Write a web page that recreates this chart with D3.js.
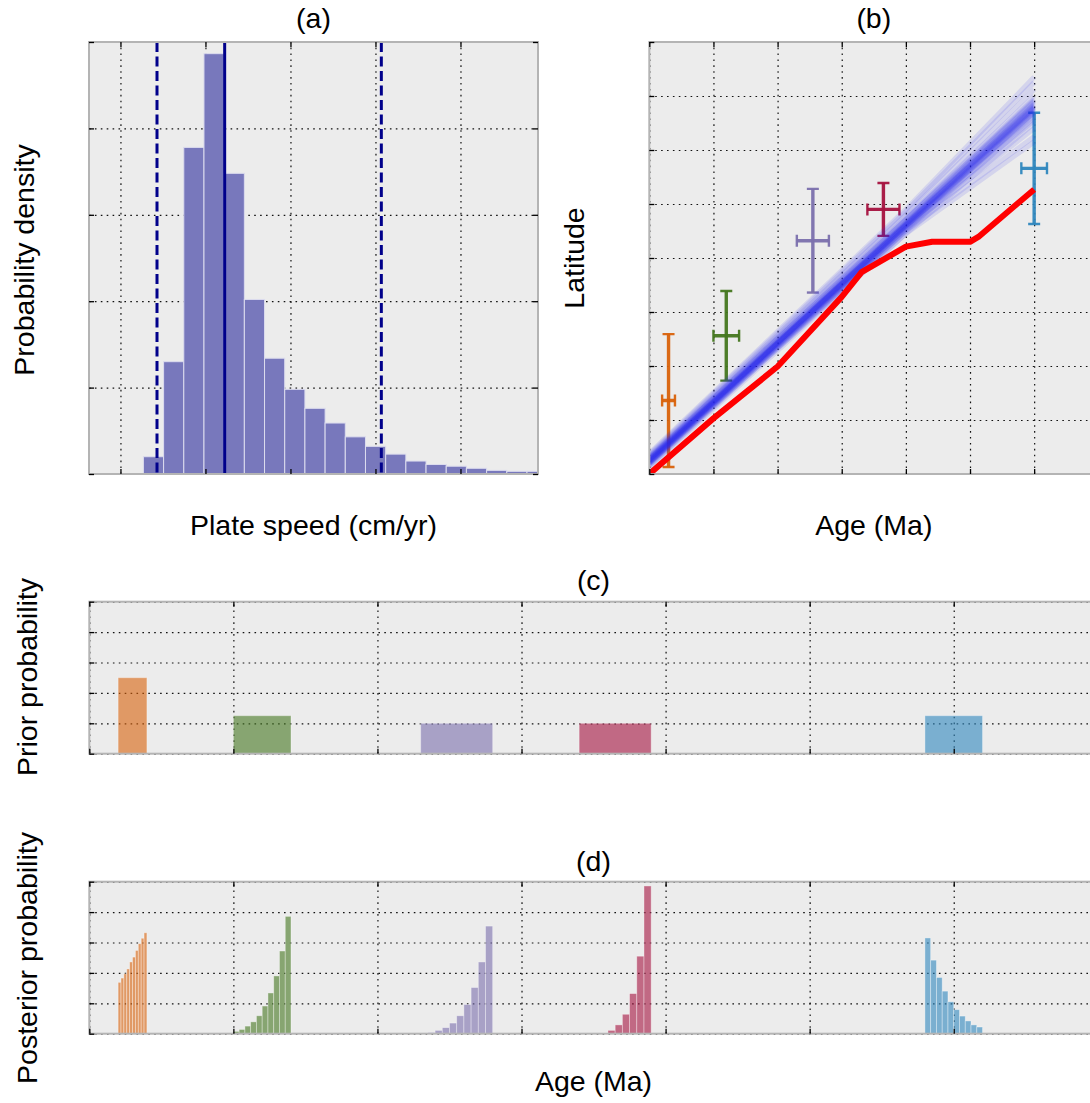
<!DOCTYPE html>
<html><head><meta charset="utf-8">
<script src="https://cdn.jsdelivr.net/npm/d3@7"></script>
<style>
body{margin:0;background:#fff}
svg{display:block}
text{font-family:"Liberation Sans",Arial,Helvetica,sans-serif;fill:#000}
</style>
</head><body><svg id="chart"></svg><script>
// ---------------- DATA ----------------
// (a) plate speed histogram
const speedTicks = [1, 2, 3, 4, 5];
const speedBinStart = 1.27;
const speedBinWidth = 0.2375;
const speedDensity = [0.20, 1.30, 3.78, 4.865, 3.48, 2.02, 1.34, 0.98, 0.76, 0.59,
                      0.43, 0.32, 0.23, 0.15, 0.11, 0.09, 0.066, 0.042, 0.031, 0.031];
const speedMedian = 2.226;
const speedInterval = [1.43, 4.069];

// (b) latitude vs age
const ageTicks = [0, 1, 2, 3, 4, 5, 6, 7];
const latTicks = [0, 1, 2, 3, 4, 5, 6, 7, 8];
const redAges = [0, 1, 2, 3, 3.31, 4, 4.41, 5, 5.13, 6];
const redLats = [0, 1.03, 1.99, 3.28, 3.74, 4.21, 4.30, 4.30, 4.39, 5.27];
// posterior paths: latitude at age 0, 4 and 6
const pathAges = [0, 4, 6];
const pathLats = [
  [0.22, 4.60, 6.76], [0.25, 4.63, 6.80], [0.20, 4.58, 6.72], [0.28, 4.66, 6.85],
  [0.24, 4.62, 6.78], [0.18, 4.55, 6.68], [0.30, 4.70, 6.92], [0.26, 4.64, 6.82],
  [0.21, 4.59, 6.74], [0.23, 4.61, 6.77], [0.27, 4.67, 6.88], [0.19, 4.56, 6.70],
  [0.32, 4.74, 7.00], [0.15, 4.50, 6.60], [0.34, 4.80, 7.12], [0.12, 4.45, 6.50],
  [0.36, 4.86, 7.25], [0.25, 4.55, 6.40], [0.22, 4.50, 6.25], [0.20, 4.45, 6.15],
  [0.29, 4.72, 6.95], [0.24, 4.60, 6.55], [0.38, 4.90, 7.35], [0.16, 4.52, 6.64],
  [0.31, 4.71, 6.90], [0.26, 4.62, 6.79], [0.23, 4.63, 6.83], [0.27, 4.58, 6.70]
];
const poleColors = ["#d9620b", "#45771f", "#7b70ad", "#a5123f", "#2f87be"];
const poleAges = [0.30, 1.20, 2.55, 3.65, 6.00];
const poleAgeErr = [0.10, 0.20, 0.25, 0.25, 0.20];
const poleLats = [1.36, 2.56, 4.32, 4.90, 5.66];
const poleLatErr = [1.23, 0.83, 0.96, 0.49, 1.03];

// (c) prior age probability
const probTicks = [0, 1, 2, 3, 4, 5];
const priorLow = [0.2, 1.0, 2.3, 3.4, 5.8];
const priorHigh = [0.4, 1.4, 2.8, 3.9, 6.2];
const priorValue = [2.5, 1.25, 1.0, 1.0, 1.25];

// (d) posterior age probability (10 bins across each prior range)
const posterior = [
  [1.69, 1.83, 1.97, 2.13, 2.36, 2.52, 2.74, 2.96, 3.14, 3.32],
  [0.077, 0.14, 0.25, 0.39, 0.59, 0.91, 1.34, 1.90, 2.72, 3.86],
  [0.01, 0.04, 0.11, 0.20, 0.35, 0.59, 0.96, 1.52, 2.36, 3.54],
  [0, 0, 0, 0.02, 0.11, 0.29, 0.64, 1.32, 2.55, 4.86],
  [3.15, 2.42, 1.85, 1.40, 1.05, 0.79, 0.58, 0.42, 0.29, 0.22]
];

// ---------------- DRAW ----------------
const W = 1090, H = 1103, BG = "#ececec", FS = 28.5;
const svg = d3.select("#chart").attr("width", W).attr("height", H);
svg.append("rect").attr("width", W).attr("height", H).attr("fill", "#fff");
const defs = svg.append("defs");

function makePanel(id, box, xDom, yDom, xTicks, yTicks) {
  const w = box.r - box.l, h = box.b - box.t;
  const x = d3.scaleLinear().domain(xDom).range([0, w]);
  const y = d3.scaleLinear().domain(yDom).range([h, 0]);
  const g = svg.append("g").attr("transform", `translate(${box.l},${box.t})`);
  g.append("rect").attr("width", w).attr("height", h).attr("fill", BG);
  defs.append("clipPath").attr("id", id).append("rect").attr("width", w).attr("height", h);
  const gx = g.append("g").attr("transform", `translate(0,${h})`)
    .call(d3.axisBottom(x).tickValues(xTicks).tickSize(-h).tickFormat(""));
  const gy = g.append("g")
    .call(d3.axisLeft(y).tickValues(yTicks).tickSize(-w).tickFormat(""));
  [gx, gy].forEach(a => {
    a.select(".domain").remove();
    a.selectAll("line").attr("stroke", "#111").attr("stroke-width", 1.2)
      .attr("stroke-dasharray", "1.6,4.3");
  });
  const data = g.append("g").attr("clip-path", `url(#${id})`);
  return {g, x, y, w, h, data, xTicks, yTicks};
}

function finishPanel(p) {
  p.g.append("rect").attr("width", p.w).attr("height", p.h).attr("fill", "none")
    .attr("stroke", "#b4b4b4").attr("stroke-width", 2);
  const axes = [
    [d3.axisBottom(p.x).tickValues(p.xTicks), `translate(0,${p.h})`],
    [d3.axisTop(p.x).tickValues(p.xTicks), `translate(0,0)`],
    [d3.axisLeft(p.y).tickValues(p.yTicks), `translate(0,0)`],
    [d3.axisRight(p.y).tickValues(p.yTicks), `translate(${p.w},0)`]
  ];
  axes.forEach(([ax, tr]) => {
    const a = p.g.append("g").attr("transform", tr)
      .call(ax.tickSize(-5).tickFormat(""));
    a.select(".domain").remove();
    a.selectAll("line").attr("stroke", "#000").attr("stroke-width", 1.3);
  });
}

function label(txt, x, y, rot) {
  const t = svg.append("text").attr("text-anchor", "middle").attr("font-size", FS).text(txt);
  if (rot) t.attr("transform", `translate(${x},${y}) rotate(-90)`);
  else t.attr("x", x).attr("y", y);
}

// ----- (a)
const pa = makePanel("clipA", {l: 89, r: 538, t: 42, b: 474}, [0.63, 5.912], [0, 5], speedTicks, probTicks);
pa.data.selectAll("rect.bin").data(speedDensity).join("rect")
  .attr("x", (d, i) => pa.x(speedBinStart + i * speedBinWidth))
  .attr("width", (d, i) => pa.x(speedBinStart + (i + 1) * speedBinWidth) - pa.x(speedBinStart + i * speedBinWidth))
  .attr("y", d => pa.y(d))
  .attr("height", d => pa.y(0) - pa.y(d))
  .attr("fill", "#7878bc").attr("stroke", "#dcdcee").attr("stroke-width", 1);
speedInterval.forEach(v => {
  pa.data.append("line").attr("x1", pa.x(v)).attr("x2", pa.x(v)).attr("y1", 0).attr("y2", pa.h)
    .attr("stroke", "#00008b").attr("stroke-width", 3).attr("stroke-dasharray", "10,4.5");
});
pa.data.append("line").attr("x1", pa.x(speedMedian)).attr("x2", pa.x(speedMedian)).attr("y1", 0).attr("y2", pa.h)
  .attr("stroke", "#00008b").attr("stroke-width", 3);
finishPanel(pa);
label("(a)", 313.5, 28);
label("Plate speed (cm/yr)", 313.5, 535);
label("Probability density", 34, 260, true);

// ----- (b)
const pb = makePanel("clipB", {l: 649.3, r: 1098.3, t: 42, b: 474}, [0, 7], [0, 8], ageTicks, latTicks);
// error bars
poleAges.forEach((a, i) => {
  const c = poleColors[i], cx = pb.x(a), cy = pb.y(poleLats[i]);
  const y1 = pb.y(poleLats[i] + poleLatErr[i]), y2 = pb.y(poleLats[i] - poleLatErr[i]);
  const x1 = pb.x(a - poleAgeErr[i]), x2 = pb.x(a + poleAgeErr[i]);
  const eg = pb.data.append("g").attr("stroke", c).attr("stroke-opacity", 0.95);
  eg.append("line").attr("x1", cx).attr("x2", cx).attr("y1", y1).attr("y2", y2).attr("stroke-width", 3.4);
  eg.append("line").attr("x1", x1).attr("x2", x2).attr("y1", cy).attr("y2", cy).attr("stroke-width", 3.4);
  [y1, y2].forEach(yy => eg.append("line").attr("x1", cx - 6).attr("x2", cx + 6).attr("y1", yy).attr("y2", yy).attr("stroke-width", 2.4));
  [x1, x2].forEach(xx => eg.append("line").attr("x1", xx).attr("x2", xx).attr("y1", cy - 6).attr("y2", cy + 6).attr("stroke-width", 2.4));
});
const lineGen = d3.line().x(d => pb.x(d[0])).y(d => pb.y(d[1]));
pb.data.selectAll("path.post").data(pathLats).join("path")
  .attr("d", d => lineGen(pathAges.map((a, k) => [a, d[k]])))
  .attr("fill", "none").attr("stroke", "#2828f0").attr("stroke-opacity", 0.12).attr("stroke-width", 5);
pb.data.append("path").attr("d", lineGen(redAges.map((a, k) => [a, redLats[k]])))
  .attr("fill", "none").attr("stroke", "#ff0000").attr("stroke-width", 6).attr("stroke-linejoin", "round");
finishPanel(pb);
label("(b)", 873.8, 28);
label("Age (Ma)", 873.8, 535);
label("Latitude", 584, 258, true);

// ----- (c)
const pc = makePanel("clipC", {l: 89.3, r: 1097.8, t: 601.7, b: 753.7}, [0, 7], [0, 5], ageTicks, probTicks);
pc.data.selectAll("rect.prior").data(priorValue).join("rect")
  .attr("x", (d, i) => pc.x(priorLow[i]))
  .attr("width", (d, i) => pc.x(priorHigh[i]) - pc.x(priorLow[i]))
  .attr("y", d => pc.y(d)).attr("height", d => pc.y(0) - pc.y(d))
  .attr("fill", (d, i) => poleColors[i]).attr("fill-opacity", 0.6)
  .attr("stroke", "#ffffff").attr("stroke-opacity", 0.35).attr("stroke-width", 1);
finishPanel(pc);
label("(c)", 593.5, 590);
label("Prior probability", 37, 677, true);

// ----- (d)
const pd = makePanel("clipD", {l: 89.3, r: 1097.8, t: 881.7, b: 1033.7}, [0, 7], [0, 5], ageTicks, probTicks);
posterior.forEach((vals, i) => {
  const bw = (priorHigh[i] - priorLow[i]) / vals.length;
  pd.data.append("g").selectAll("rect").data(vals).join("rect")
    .attr("x", (d, k) => pd.x(priorLow[i] + k * bw))
    .attr("width", (d, k) => pd.x(priorLow[i] + (k + 1) * bw) - pd.x(priorLow[i] + k * bw))
    .attr("y", d => pd.y(d)).attr("height", d => pd.y(0) - pd.y(d))
    .attr("fill", poleColors[i]).attr("fill-opacity", 0.6)
    .attr("stroke", "#ffffff").attr("stroke-opacity", 0.45).attr("stroke-width", 0.8);
});
finishPanel(pd);
label("(d)", 593.5, 871);
label("Posterior probability", 37, 958, true);
label("Age (Ma)", 593.5, 1091);
</script></body></html>
